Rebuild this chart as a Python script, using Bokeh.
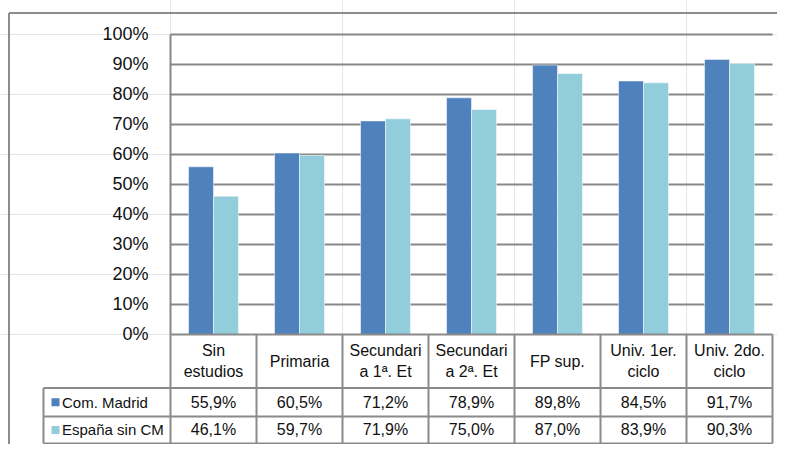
from bokeh.plotting import figure
from bokeh.models import Range1d, LinearAxis, FixedTicker, PrintfTickFormatter
from bokeh.core.properties import value
from bokeh.embed import file_html
from bokeh.resources import INLINE

# ---- data ----
categories = ["Sin\nestudios", "Primaria", "Secundari\na 1ª. Et", "Secundari\na 2ª. Et",
              "FP sup.", "Univ. 1er.\nciclo", "Univ. 2do.\nciclo"]
series_names = ["Com. Madrid", "España sin CM"]
madrid = [55.9, 60.5, 71.2, 78.9, 89.8, 84.5, 91.7]
espana = [46.1, 59.7, 71.9, 75.0, 87.0, 83.9, 90.3]
y_ticks = [0, 10, 20, 30, 40, 50, 60, 70, 80, 90, 100]

# ---- style ----
FONT = "Liberation Sans"
DARK = "#4F81BD"
LIGHT = "#92CDDC"
GRID = "#878787"
BORDER = "#8a8a8a"
FS = "16px"

n = len(categories)
centers = [i + 0.5 for i in range(n)]
bw = 0.29

p = figure(width=777, height=444,
           x_range=Range1d(-1.97674, 7.05814), y_range=Range1d(-36.667, 111.333),
           output_backend="svg", toolbar_location=None,
           x_axis_location=None, y_axis_location=None,
           min_border=0, outline_line_color=None)
p.background_fill_color = "white"
p.border_fill_color = "white"

# outer chart-area frame (top and left edges visible)
FT, FL = 107.17, -1.878
p.segment(x0=[FL, FL], y0=[FT, FT], x1=[7.2, FL], y1=[FT, -40],
          line_color="#8c8c8c", line_width=2)

# gridlines
gt = y_ticks[1:]
p.segment(x0=[0] * len(gt), x1=[n] * len(gt), y0=gt, y1=gt,
          line_color=GRID, line_width=2)

# bars
p.vbar(x=[c - bw / 2 for c in centers], top=madrid, bottom=0, width=bw,
       fill_color=DARK, line_color="white", line_alpha=0.5, line_width=1)
p.vbar(x=[c + bw / 2 for c in centers], top=espana, bottom=0, width=bw,
       fill_color=LIGHT, line_color="white", line_alpha=0.5, line_width=1)

# y axis
ax = LinearAxis(fixed_location=0, bounds=(0, 100),
                ticker=FixedTicker(ticks=y_ticks),
                formatter=PrintfTickFormatter(format="%d%%"),
                major_tick_out=0, major_tick_in=0, minor_tick_out=0, minor_tick_in=0,
                major_label_standoff=22, axis_line_color=GRID, axis_line_width=2,
                major_label_text_font=FONT, major_label_text_font_size="18px",
                major_label_text_color="#111111")
p.add_layout(ax, "left")

# data table
Y0, Y1, Y2, Y3 = 0, -17.8, -27.3, -36.3
LX = -1.477
hx0 = [0, LX, LX, LX]
hx1 = [n, n, n, n]
hy = [Y0, Y1, Y2, Y3]
p.segment(x0=hx0, x1=hx1, y0=hy, y1=hy, line_color=BORDER, line_width=2)
vx = [LX] + list(range(n + 1))
vy0 = [Y1] + [Y0] * (n + 1)
p.segment(x0=vx, x1=vx, y0=vy0, y1=[Y3] * len(vx), line_color=BORDER, line_width=2)

p.text(x=centers, y=[(Y0 + Y1) / 2] * n, text=categories,
       text_align="center", text_baseline="middle", text_font=value(FONT),
       text_font_size=FS, text_color="#111111", text_line_height=1.2)

def fmt(v):
    return f"{v:.1f}%".replace(".", ",")

rows_y = [(Y1 + Y2) / 2, (Y2 + Y3) / 2]
for vals, yy, col, name in zip([madrid, espana], rows_y, [DARK, LIGHT], series_names):
    p.text(x=centers, y=[yy] * n, text=[fmt(v) for v in vals],
           text_align="center", text_baseline="middle", text_font=value(FONT),
           text_font_size=FS, text_color="#111111")
    p.scatter(x=[-1.337], y=[yy], marker="square", size=8, fill_color=col, line_color=None)
    p.text(x=[-1.2616], y=[yy], text=[name], text_align="left", text_baseline="middle",
           text_font=value(FONT), text_font_size="15px", text_color="#111111")

open("out.html", "w").write(file_html(p, INLINE))
